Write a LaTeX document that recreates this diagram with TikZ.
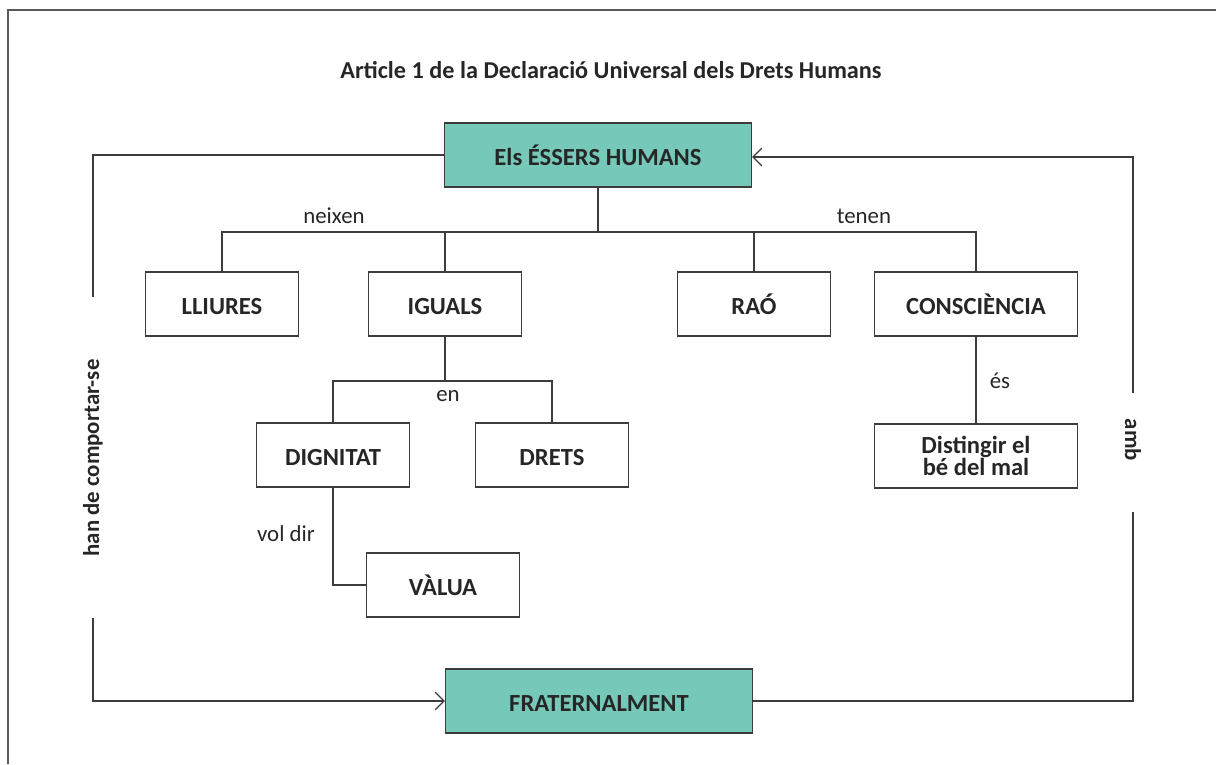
\documentclass[tikz,border=0pt]{standalone}
\usepackage{fontspec}
\setmainfont{Carlito}
\usepackage{xcolor}
\usepackage{tikz}
\usetikzlibrary{arrows.meta}

\definecolor{tealfill}{RGB}{118,200,185}
\definecolor{linegray}{RGB}{60,60,60}

\begin{document}
\begin{tikzpicture}[x=0.02cm, y=-0.02cm,
    plainbox/.style={rectangle, draw=linegray, line width=0.7pt, minimum width=3.06cm, minimum height=1.28cm, align=center, font=\fontsize{14}{13}\selectfont\bfseries, text=black!85},
    box/.style={plainbox, text height=12pt, text depth=0pt},
    keybox/.style={box, fill=tealfill, minimum width=6.14cm},
    link/.style={draw=linegray, line width=0.7pt},
    lbl/.style={font=\fontsize{13}{15}\selectfont, text=black!85},
    tip/.style={-{Straight Barb[length=5pt,width=10pt]}}]

    \useasboundingbox (0,0) rectangle (1216,764);
    \draw[draw=black!65, line width=1.1pt] (8,764) -- (8,10) -- (1216,10);

    \node[font=\fontsize{13.8}{15}\selectfont\bfseries, text=black!85] (title) at (611,70) {Article 1 de la Declaració Universal dels Drets Humans};

    % main boxes
    \node[keybox] (humans) at (598,155) {Els ÉSSERS HUMANS};
    \node[keybox] (frater) at (599,701) {FRATERNALMENT};

    \node[box] (lliures) at (222,304) {LLIURES};
    \node[box] (iguals) at (445,304) {IGUALS};
    \node[box] (rao) at (754,304) {RAÓ};
    \node[box, minimum width=4.06cm] (consc) at (976,304) {CONSCIÈNCIA};

    \node[box] (dignitat) at (333,455) {DIGNITAT};
    \node[box] (drets) at (552,455) {DRETS};
    \node[plainbox, minimum width=4.06cm] (distingir) at (976,456) {Distingir el\\bé del mal};
    \node[box] (valua) at (443,585) {VÀLUA};

    % tree from the top box
    \coordinate (split) at (598,232);
    \draw[link] (humans.south) -- (split);
    \draw[link] (lliures.north) -- (lliures.north |- split) -- (consc.north |- split) -- (consc.north);
    \draw[link] (iguals.north) -- (iguals.north |- split);
    \draw[link] (rao.north) -- (rao.north |- split);
    \node[lbl] (neixen) at (334,216) {neixen};
    \node[lbl] (tenen) at (864,216) {tenen};

    \coordinate (splitb) at (445,381);
    \draw[link] (iguals.south) -- (splitb);
    \draw[link] (dignitat.north) -- (dignitat.north |- splitb) -- (drets.north |- splitb) -- (drets.north);
    \node[lbl] (en) at (448,396) {en};

    \draw[link] (dignitat.south) |- (valua.west);
    \node[lbl] (voldir) at (286,534) {vol dir};

    \draw[link] (consc.south) -- (distingir.north);
    \node[lbl] (es) at (1000,381) {és};

    % side loops
    \coordinate (lefttop) at (93,297);
    \coordinate (leftbot) at (93,618);
    \draw[link] (humans.west) -| (lefttop);
    \draw[link, tip] (leftbot) |- (frater.west);
    \node[lbl, font=\fontsize{13}{15}\selectfont\bfseries, rotate=90] (comportar) at (93,458) {han de comportar-se};

    \coordinate (rightbot) at (1133,512);
    \coordinate (righttop) at (1133,393);
    \draw[link] (frater.east) -| (rightbot);
    \draw[link, tip] (righttop) |- ([yshift=-0.04cm]humans.east);
    \node[lbl, font=\fontsize{13}{15}\selectfont\bfseries, rotate=-90] (amb) at (1133,440) {amb};

\end{tikzpicture}
\end{document}
